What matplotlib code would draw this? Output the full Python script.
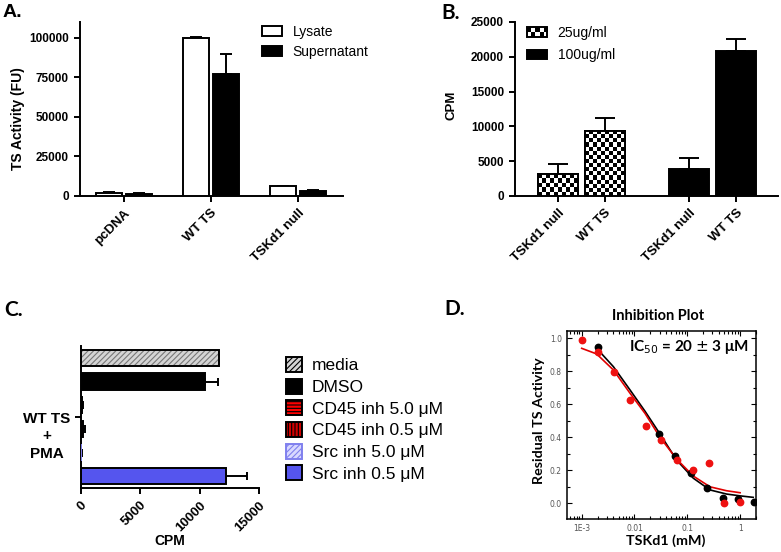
import matplotlib
matplotlib.use("Agg")
import matplotlib.pyplot as plt
from matplotlib.patches import Patch, Rectangle
from matplotlib.legend_handler import HandlerBase
from matplotlib.image import BboxImage
from matplotlib.transforms import Bbox, TransformedBbox
from matplotlib.ticker import FixedLocator, LogLocator, NullFormatter, MultipleLocator
import numpy as np

# ---------------- data ----------------
A_categories = ['pcDNA', 'WT TS', 'TSKd1 null']
A_lysate = [2100, 100000, 6100]
A_lysate_err = [300, 600, 500]
A_super = [1500, 77300, 3200]
A_super_err = [300, 12600, 500]

B_labels = ['TSKd1 null', 'WT TS']
B_25 = [3100, 9400]
B_25_err = [1450, 1750]
B_100 = [3950, 20850]
B_100_err = [1550, 1700]

C_labels = ['media', 'DMSO', 'CD45 inh 5.0 μM', 'CD45 inh 0.5 μM',
            'Src inh 5.0 μM', 'Src inh 0.5 μM']
C_values = [11600, 10450, 120, 220, 60, 12200]
C_err = [0, 1100, 80, 150, 20, 1800]
C_group = 'WT TS\n+\nPMA'

D_red_x = [0.001, 0.00207, 0.00404, 0.0081, 0.0163, 0.0314, 0.064, 0.127, 0.259, 0.506, 1.0]
D_red_y = [0.988, 0.919, 0.798, 0.626, 0.471, 0.384, 0.261, 0.200, 0.244, 0.000, 0.008]
D_black_x = [0.00207, 0.0288, 0.0587, 0.116, 0.234, 0.47, 0.93, 1.85]
D_black_y = [0.947, 0.418, 0.287, 0.186, 0.095, 0.034, 0.026, 0.006]
D_red_fit_x = [0.001, 0.00192, 0.00398, 0.00822, 0.0158, 0.0304, 0.0627, 0.130, 0.268, 0.555, 1.0]
D_red_fit_y = [0.939, 0.905, 0.808, 0.667, 0.545, 0.400, 0.268, 0.165, 0.100, 0.076, 0.064]
D_black_fit_x = [0.00192, 0.00398, 0.00822, 0.0158, 0.0304, 0.0627, 0.130, 0.268, 0.555, 1.0, 1.77]
D_black_fit_y = [0.939, 0.828, 0.687, 0.558, 0.420, 0.262, 0.152, 0.081, 0.056, 0.045, 0.036]

# ---------------- figure ----------------
W, H = 781, 552
fig = plt.figure(figsize=(W / 100, H / 100), dpi=100)

def ax_px(l, t, r, b):
    return fig.add_axes([l / W, 1 - b / H, (r - l) / W, (b - t) / H])

ARIAL = 'Liberation Sans'
CAL = 'Lato'
LW = 1.4
CELL = 4.0  # checker cell size in px

def checker(nr, nc):
    r, c = np.indices((max(nr, 1), max(nc, 1)))
    return ((r + c) % 2).astype(float)

def gp_style(ax, xls=9.5):
    for s in ['top', 'right']:
        ax.spines[s].set_visible(False)
    for s in ['left', 'bottom']:
        ax.spines[s].set_linewidth(LW)
    ax.tick_params(direction='out', width=LW, length=4.5, labelsize=8.5)
    ax.tick_params(axis='x', labelsize=xls)
    for lab in ax.get_xticklabels() + ax.get_yticklabels():
        lab.set_fontweight('bold')
        lab.set_family(ARIAL)

class CheckerHandler(HandlerBase):
    def create_artists(self, legend, orig_handle, xdescent, ydescent, width, height, fontsize, trans):
        bb = TransformedBbox(Bbox.from_bounds(-xdescent, -ydescent, width, height), trans)
        im = BboxImage(bb, cmap='gray', interpolation='nearest', norm=None)
        im.set_data(checker(int(round(height * 1.389 / CELL)), int(round(width * 1.389 / CELL))))
        im.set_clim(0, 1)
        rect = Rectangle((-xdescent, -ydescent), width, height, facecolor='none',
                         edgecolor='black', linewidth=LW, transform=trans)
        return [im, rect]

# ---------------- panel A ----------------
axA = ax_px(80, 22, 343, 196)
xc = np.arange(len(A_categories))
off, bw = 0.176, 0.30
axA.bar(xc - off, A_lysate, bw, color='white', edgecolor='black', linewidth=LW, zorder=3)
axA.bar(xc + off, A_super, bw, color='black', edgecolor='black', linewidth=LW, zorder=3)
axA.errorbar(xc - off, A_lysate, yerr=[np.zeros(3), A_lysate_err], fmt='none',
             ecolor='black', elinewidth=LW, capsize=4, capthick=LW, zorder=2)
axA.errorbar(xc + off, A_super, yerr=[np.zeros(3), A_super_err], fmt='none',
             ecolor='black', elinewidth=LW, capsize=4, capthick=LW, zorder=2)
axA.set_xlim(-0.506, 2.517)
axA.set_ylim(0, 110000)
axA.set_yticks([0, 25000, 50000, 75000, 100000])
axA.set_xticks(xc)
axA.set_xticklabels(A_categories, rotation=45, ha='right', rotation_mode='anchor')
gp_style(axA)
axA.set_ylabel('TS Activity (FU)', fontsize=10, fontweight='bold', family=ARIAL)
axA.yaxis.set_label_coords(-0.21, 0.443)
axA.legend(handles=[Patch(facecolor='white', edgecolor='black', linewidth=LW, label='Lysate'),
                    Patch(facecolor='black', edgecolor='black', linewidth=LW, label='Supernatant')],
           loc='upper left', bbox_to_anchor=(262 / W, 1 - 25 / H), bbox_transform=fig.transFigure,
           frameon=False, prop={'family': ARIAL, 'size': 10}, handlelength=1.45,
           handleheight=0.72, handletextpad=0.75, labelspacing=0.4, borderpad=0, borderaxespad=0)

# ---------------- panel B ----------------
axB = ax_px(515, 22, 778, 196)
posB25 = np.array([0.0, 1.0])
posB100 = np.array([2.79, 3.79])
bwB = 0.85
axB.set_xlim(-0.915, 4.68)
axB.set_ylim(0, 25000)
bars25 = axB.bar(posB25, B_25, bwB, color='white', edgecolor='black', linewidth=LW, zorder=3)
# checkerboard fill clipped to each bar
for bar in bars25:
    x0, y0 = bar.get_x(), bar.get_y()
    bwid, bhei = bar.get_width(), bar.get_height()
    p0 = axB.transData.transform((x0, y0))
    p1 = axB.transData.transform((x0 + bwid, y0 + bhei))
    nc = int(round((p1[0] - p0[0]) / CELL))
    nr = int(round((p1[1] - p0[1]) / CELL))
    im = axB.imshow(checker(nr, nc), cmap='gray', vmin=0, vmax=1, interpolation='nearest',
                    extent=(x0, x0 + bwid, y0, y0 + bhei), origin='lower', aspect='auto', zorder=3.5)
    im.set_clip_path(bar)
    outline = Rectangle((x0, y0), bwid, bhei, fill=False, edgecolor='black', linewidth=LW, zorder=4)
    axB.add_patch(outline)
axB.bar(posB100, B_100, bwB, color='black', edgecolor='black', linewidth=LW, zorder=3)
axB.errorbar(posB25, B_25, yerr=[np.zeros(2), B_25_err], fmt='none', ecolor='black',
             elinewidth=LW, capsize=7.4, capthick=LW, zorder=2)
axB.errorbar(posB100, B_100, yerr=[np.zeros(2), B_100_err], fmt='none', ecolor='black',
             elinewidth=LW, capsize=7.4, capthick=LW, zorder=2)
axB.set_xlim(-0.915, 4.68)
axB.set_ylim(0, 25000)
axB.set_yticks([0, 5000, 10000, 15000, 20000, 25000])
axB.set_xticks(np.concatenate([posB25, posB100]))
axB.set_xticklabels(B_labels + B_labels, rotation=45, ha='right', rotation_mode='anchor')
gp_style(axB)
axB.set_ylabel('CPM', fontsize=9.5, fontweight='bold', family=ARIAL)
axB.yaxis.set_label_coords(-0.217, 0.523)
h25 = Patch(facecolor='white', edgecolor='black', linewidth=LW, label='25ug/ml')
h100 = Patch(facecolor='black', edgecolor='black', linewidth=LW, label='100ug/ml')
axB.legend(handles=[h25, h100], handler_map={h25: CheckerHandler()},
           loc='upper left', bbox_to_anchor=(527 / W, 1 - 26 / H), bbox_transform=fig.transFigure,
           frameon=False, prop={'family': ARIAL, 'size': 10}, handlelength=1.45,
           handleheight=0.72, handletextpad=0.75, labelspacing=0.6, borderpad=0, borderaxespad=0)

# ---------------- panel C ----------------
plt.rcParams['hatch.linewidth'] = 0.8
axC = ax_px(80.7, 346, 259, 488)
yc = np.arange(len(C_labels))
face = ['#d4d4d4', 'black', '#ff0000', '#d00000', '#d8d8ff', '#5555ee']
hcol = ['#777777', 'black', '#600000', '#500000', '#8c8cf0', '#5555ee']
hatches = ['//////', None, '-----', '|||||', '//////', None]
edge = ['black', 'black', 'black', 'black', '#8080ee', 'black']
bh = 0.7
handles = []
for i in range(len(C_labels)):
    axC.barh(yc[i], C_values[i], bh, color=face[i], edgecolor=hcol[i], hatch=hatches[i],
             linewidth=0, zorder=3)
    axC.barh(yc[i], C_values[i], bh, fill=False, edgecolor=edge[i], linewidth=LW, zorder=4)
    handles.append(Patch(facecolor=face[i], edgecolor=edge[i], hatch=hatches[i],
                         linewidth=LW, label=C_labels[i]))
for i in range(len(C_labels)):
    if C_err[i] > 0:
        axC.errorbar(C_values[i], yc[i], xerr=[[0], [C_err[i]]], fmt='none', ecolor='black',
                     elinewidth=LW, capsize=3, capthick=LW, zorder=2)
axC.set_ylim(5.5, -0.5)
axC.set_xlim(0, 15000)
axC.set_xticks([0, 5000, 10000, 15000])
axC.set_xticklabels(['0', '5000', '10000', '15000'], rotation=45, ha='right', rotation_mode='anchor')
axC.set_yticks([2.5])
axC.set_yticklabels([''])
gp_style(axC)
axC.text(47 / W, 1 - 412 / H, C_group, transform=fig.transFigure, ha='center', va='top',
         multialignment='center', linespacing=1.3, fontsize=11, fontweight='bold', family=ARIAL)
axC.set_xlabel('CPM', fontsize=10, fontweight='bold', family=ARIAL)
axC.xaxis.set_label_coords(0.5, -0.322)
fig.legend(handles=handles, loc='upper left', bbox_to_anchor=(286 / W, 1 - 357 / H),
           frameon=False, prop={'family': ARIAL, 'size': 12.5}, handlelength=0.95,
           handleheight=0.95, handletextpad=0.55, labelspacing=0.3, borderpad=0, borderaxespad=0)

# ---------------- panel D ----------------
axD = ax_px(566.7, 331, 756, 519.3)
axD.plot(D_black_fit_x, D_black_fit_y, color='black', lw=1.2, zorder=2)
axD.plot(D_red_fit_x, D_red_fit_y, color='#e00000', lw=1.2, zorder=2)
axD.plot(D_black_x, D_black_y, 'o', color='black', ms=4.6, zorder=3)
axD.plot(D_red_x, D_red_y, 'o', color='#ee1111', ms=4.6, zorder=4)
axD.set_xscale('log')
axD.set_xlim(5.2e-4, 2.0)
axD.set_ylim(-0.097, 1.044)
axD.xaxis.set_major_locator(FixedLocator([1e-3, 1e-2, 1e-1, 1]))
axD.set_xticklabels(['1E-3', '0.01', '0.1', '1'])
axD.xaxis.set_minor_locator(LogLocator(base=10, subs=np.arange(2, 10)))
axD.xaxis.set_minor_formatter(NullFormatter())
axD.yaxis.set_minor_locator(MultipleLocator(0.1))
axD.set_yticks([0, 0.2, 0.4, 0.6, 0.8, 1.0])
axD.set_yticklabels(['0.0', '0.2', '0.4', '0.6', '0.8', '1.0'])
for s in axD.spines.values():
    s.set_linewidth(1.1)
axD.tick_params(which='both', direction='in', top=True, right=True, labelsize=5.5,
                labelcolor='#555555', width=0.8)
axD.tick_params(which='major', length=3.5)
axD.tick_params(which='minor', length=2)
axD.set_title('Inhibition Plot', fontsize=10.5, fontweight='bold', family=CAL, x=0.48, y=1.058, pad=0)
axD.set_xlabel('TSKd1 (mM)', fontsize=10.3, fontweight='bold', family=CAL)
axD.xaxis.set_label_coords(0.525, -0.08)
axD.set_ylabel('Residual TS Activity', fontsize=10.3, fontweight='bold', family=CAL)
axD.yaxis.set_label_coords(-0.113, 0.525)
axD.text(0.96, 0.915, r'IC$_{50}$ = 20 $\pm$ 3 μM', transform=axD.transAxes, ha='right', va='center',
         fontsize=11, fontweight='bold', family=CAL)

# ---------------- panel letters ----------------
fig.text(3 / W, 1 - 4 / H, 'A.', fontsize=14, fontweight='bold', family=ARIAL, va='top')
fig.text(441 / W, 1 - 3 / H, 'B.', fontsize=15, fontweight='bold', family=CAL, va='top')
fig.text(4 / W, 1 - 300 / H, 'C.', fontsize=15, fontweight='bold', family=CAL, va='top')
fig.text(444 / W, 1 - 299 / H, 'D.', fontsize=15, fontweight='bold', family=CAL, va='top')

fig.savefig('out.png', dpi=100)
